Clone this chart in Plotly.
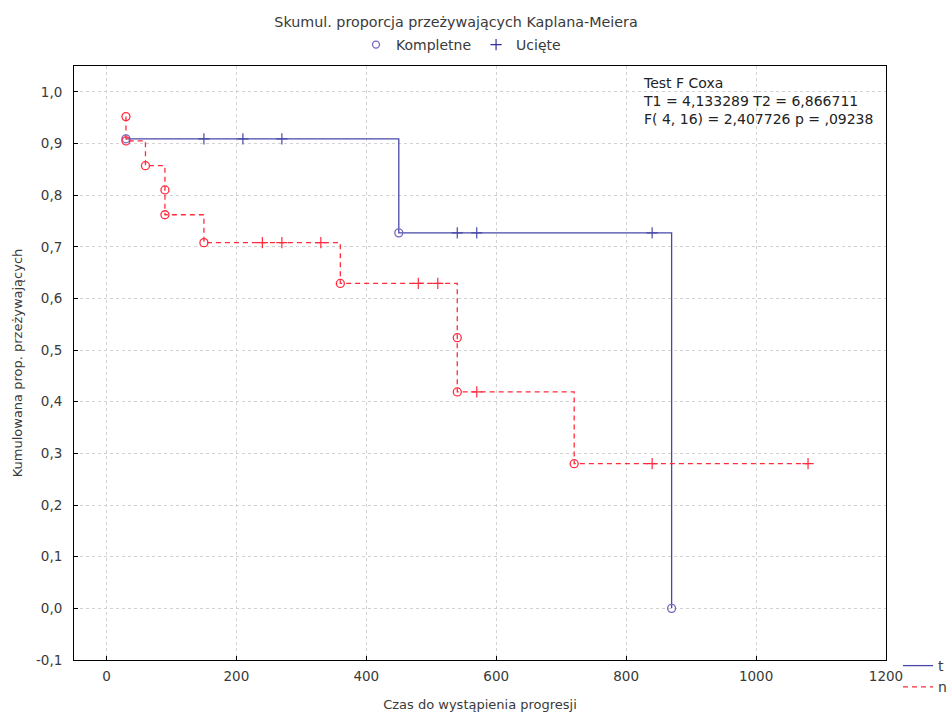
import plotly.graph_objects as go

# Kaplan-Meier estimates: event times and survival after each event
t_event_x = [30, 450, 870]
t_event_y = [0.909, 0.727, 0.0]
t_cens_x = [150, 210, 270, 540, 570, 840]
t_cens_y = [0.909, 0.909, 0.909, 0.727, 0.727, 0.727]

n_event_x = [30, 30, 60, 90, 90, 150, 360, 540, 540, 720]
n_event_y = [0.952, 0.905, 0.857, 0.810, 0.762, 0.708, 0.629, 0.524, 0.419, 0.280]
n_cens_x = [240, 270, 330, 480, 510, 570, 840, 1080]
n_cens_y = [0.708, 0.708, 0.708, 0.629, 0.629, 0.419, 0.280, 0.280]
n_last_x = 1080  # longest follow-up in group n (censored)

x_ticks = [0, 200, 400, 600, 800, 1000, 1200]
x_tick_text = ["0", "200", "400", "600", "800", "1000", "1200"]
y_ticks = [-0.1, 0.0, 0.1, 0.2, 0.3, 0.4, 0.5, 0.6, 0.7, 0.8, 0.9, 1.0]
y_tick_text = ["-0,1", "0,0", "0,1", "0,2", "0,3", "0,4", "0,5", "0,6", "0,7", "0,8", "0,9", "1,0"]

stats_lines = [
    "Test F Coxa",
    "T1 = 4,133289 T2 = 6,866711",
    "F( 4, 16) = 2,407726 p = ,09238",
]

BLUE = "#4848a8"
BLUE_MK = "#7468c0"
RED = "#ff2b3d"
FONT = "DejaVu Sans, Liberation Sans, Arial, sans-serif"
TXT = "#3a3a3a"

fig = go.Figure()

# step curves
fig.add_trace(go.Scatter(
    x=t_event_x, y=t_event_y, mode="lines", line_shape="hv",
    line=dict(color=BLUE, width=1.3), name="t", legend="legend",
))
fig.add_trace(go.Scatter(
    x=n_event_x + [n_last_x], y=n_event_y + [n_event_y[-1]], mode="lines", line_shape="hv",
    line=dict(color=RED, width=1.3, dash="5px,4px"), name="n", legend="legend",
))

# complete (event) markers
fig.add_trace(go.Scatter(
    x=t_event_x, y=t_event_y, mode="markers", showlegend=False,
    marker=dict(symbol="circle-open", size=8, color=BLUE_MK, line=dict(width=1.3)),
))
fig.add_trace(go.Scatter(
    x=n_event_x, y=n_event_y, mode="markers", showlegend=False,
    marker=dict(symbol="circle-open", size=8, color=RED, line=dict(width=1.3)),
))

# censored markers
fig.add_trace(go.Scatter(
    x=t_cens_x, y=t_cens_y, mode="markers", showlegend=False,
    marker=dict(symbol="cross-thin", size=8, color=BLUE, line=dict(width=1.2, color=BLUE)),
))
fig.add_trace(go.Scatter(
    x=n_cens_x, y=n_cens_y, mode="markers", showlegend=False,
    marker=dict(symbol="cross-thin", size=8, color=RED, line=dict(width=1.2, color=RED)),
))

# marker key at the top
fig.add_trace(go.Scatter(
    x=[None], y=[None], mode="markers", name="Kompletne", legend="legend2",
    marker=dict(symbol="circle-open", size=7, color=BLUE_MK, line=dict(width=1.3)),
))
fig.add_trace(go.Scatter(
    x=[None], y=[None], mode="markers", name="Ucięte", legend="legend2",
    marker=dict(symbol="cross-thin", size=8, color="#3030a0", line=dict(width=1.2, color="#3030a0")),
))

fig.add_annotation(
    text="<br>".join(stats_lines), xref="paper", yref="paper",
    x=0.698, y=0.988, xanchor="left", yanchor="top", align="left",
    showarrow=False, font=dict(family=FONT, size=14, color="#222222"),
)

axis_common = dict(
    showline=True, linecolor="#000000", linewidth=1, mirror=True,
    showgrid=True, gridcolor="#d2d2d2", griddash="dot", gridwidth=1,
    ticks="inside", ticklen=4, tickcolor="#000000",
    tickfont=dict(family=FONT, size=13.5, color=TXT), zeroline=False,
)

fig.update_layout(
    width=951, height=714,
    margin=dict(l=74, r=65, t=66, b=54, autoexpand=False),
    paper_bgcolor="white", plot_bgcolor="white",
    font=dict(family=FONT, size=13, color=TXT),
    title=dict(text="Skumul. proporcja przeżywających Kaplana-Meiera",
               x=456 / 951, xanchor="center", xref="container",
               y=1 - 22 / 714, yanchor="middle", yref="container",
               font=dict(family=FONT, size=14.3, color=TXT)),
    xaxis=dict(range=[-50, 1200], tickvals=x_ticks, ticktext=x_tick_text,
               ticklabelstandoff=4,
               title=dict(text="Czas do wystąpienia progresji", standoff=16,
                          font=dict(family=FONT, size=13, color=TXT)),
               **axis_common),
    yaxis=dict(range=[-0.1, 1.05], tickvals=y_ticks, ticktext=y_tick_text,
               ticklabelstandoff=8,
               title=dict(text="Kumulowana prop. przeżywających", standoff=10,
                          font=dict(family=FONT, size=13, color=TXT)),
               **axis_common),
    legend=dict(x=898 / 951, xref="container", y=1 - 650 / 714, yref="container",
                xanchor="left", yanchor="top",
                bgcolor="rgba(0,0,0,0)", tracegroupgap=0, itemwidth=30,
                font=dict(family=FONT, size=14, color=TXT)),
    legend2=dict(orientation="h", x=461 / 951, xref="container", xanchor="center",
                 y=1 - 45 / 714, yref="container", yanchor="middle",
                 bgcolor="rgba(0,0,0,0)", itemwidth=30,
                 font=dict(family=FONT, size=14, color=TXT)),
)

fig.write_html("out.html")
